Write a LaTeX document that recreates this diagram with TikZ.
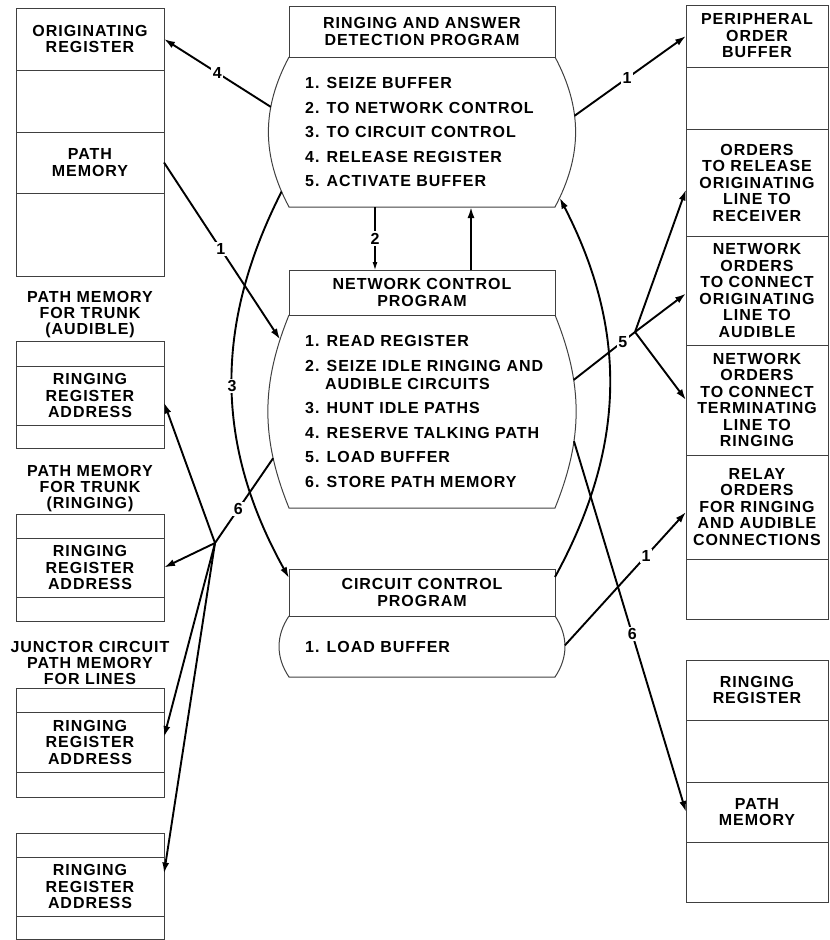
\documentclass[tikz,border=0pt]{standalone}
\usepackage{fontspec}
\usepackage{tikz}
\usetikzlibrary{positioning,arrows.meta}

\newfontfamily\lettering{Liberation Sans}[LetterSpace=6]

\tikzset{
  cell/.style={draw=black!75, line width=1pt, inner sep=0pt, outer sep=0pt, align=center,
    font=\lettering\bfseries\fontsize{16}{16.5}\selectfont},
  leftcell/.style={cell, minimum width=148pt},
  rightcell/.style={cell, minimum width=142pt},
  head/.style={cell, minimum width=266pt, font=\lettering\bfseries\fontsize{16}{17}\selectfont},
  body/.style={inner sep=0pt, outer sep=0pt, minimum width=266pt},
  list/.style={inner sep=0pt, anchor=west, align=left,
    font=\lettering\bfseries\fontsize{16}{24.5}\selectfont},
  caption/.style={inner sep=0pt, align=center, font=\lettering\bfseries\fontsize{16}{16}\selectfont},
  outline/.style={draw=black!75, line width=1pt},
  line/.style={line width=1.9pt},
  flow/.style={line, -{Latex[length=11pt,width=7pt]}},
  thinflow/.style={line width=1.1pt, -{Latex[length=8pt,width=5pt]}},
  num/.style={fill=white, inner sep=1.5pt, font=\lettering\bfseries\fontsize{16}{16}\selectfont}
}

\begin{document}
\begin{tikzpicture}[x=1pt,y=-1pt]
\useasboundingbox (0,0) rectangle (830,940);

% left column
\node[leftcell, minimum height=62pt, anchor=north] (origreg) at (90,8) {ORIGINATING\\REGISTER};
\node[leftcell, minimum height=62pt, below=0pt of origreg] (origgap) {};
\node[leftcell, minimum height=61pt, below=0pt of origgap] (origpath) {PATH\\MEMORY};
\node[leftcell, minimum height=83pt, below=0pt of origpath] (origtail) {};

\node[caption] (tacap) at (90,315) {PATH MEMORY\\FOR TRUNK\\(AUDIBLE)};
\node[leftcell, minimum height=25pt, anchor=north] (tatop) at (90,341) {};
\node[leftcell, minimum height=59pt, below=0pt of tatop] (taaddr) {RINGING\\REGISTER\\ADDRESS};
\node[leftcell, minimum height=23pt, below=0pt of taaddr] (tabot) {};

\node[caption] (trcap) at (90,489) {PATH MEMORY\\FOR TRUNK\\(RINGING)};
\node[leftcell, minimum height=24pt, anchor=north] (trtop) at (90,514) {};
\node[leftcell, minimum height=59pt, below=0pt of trtop] (traddr) {RINGING\\REGISTER\\ADDRESS};
\node[leftcell, minimum height=24pt, below=0pt of traddr] (trbot) {};

\node[caption] (jccap) at (90,663) {JUNCTOR CIRCUIT\\PATH MEMORY\\FOR LINES};
\node[leftcell, minimum height=24pt, anchor=north] (jctop) at (90,688) {};
\node[leftcell, minimum height=60pt, below=0pt of jctop] (jcaddr) {RINGING\\REGISTER\\ADDRESS};
\node[leftcell, minimum height=25pt, below=0pt of jcaddr] (jcbot) {};

\node[leftcell, minimum height=24pt, anchor=north] (lntop) at (90,833) {};
\node[leftcell, minimum height=59pt, below=0pt of lntop] (lnaddr) {RINGING\\REGISTER\\ADDRESS};
\node[leftcell, minimum height=23pt, below=0pt of lnaddr] (lnbot) {};

% right column
\node[rightcell, minimum height=62pt, anchor=north] (pob) at (757,5) {PERIPHERAL\\ORDER\\BUFFER};
\node[rightcell, minimum height=62pt, below=0pt of pob] (pobgap) {};
\node[rightcell, minimum height=107pt, below=0pt of pobgap] (orderrel) {ORDERS\\TO RELEASE\\ORIGINATING\\LINE TO\\RECEIVER};
\node[rightcell, minimum height=109pt, below=0pt of orderrel] (orderorig) {NETWORK\\ORDERS\\TO CONNECT\\ORIGINATING\\LINE TO\\AUDIBLE};
\node[rightcell, minimum height=110pt, below=0pt of orderorig] (orderterm) {NETWORK\\ORDERS\\TO CONNECT\\TERMINATING\\LINE TO\\RINGING};
\node[rightcell, minimum height=104pt, below=0pt of orderterm] (relay) {RELAY\\ORDERS\\FOR RINGING\\AND AUDIBLE\\CONNECTIONS};
\node[rightcell, minimum height=60pt, below=0pt of relay] (pobtail) {};

\node[rightcell, minimum height=60pt, anchor=north] (ringreg) at (757,660) {RINGING\\REGISTER};
\node[rightcell, minimum height=62pt, below=0pt of ringreg] (ringgap) {};
\node[rightcell, minimum height=60pt, below=0pt of ringgap] (ringpath) {PATH\\MEMORY};
\node[rightcell, minimum height=60pt, below=0pt of ringpath] (ringtail) {};

% programs
\node[head, minimum height=51pt] (ringhead) at (422,31.5) {RINGING AND ANSWER\\DETECTION PROGRAM};
\node[body, minimum height=150pt, below=0pt of ringhead] (ringbody) {};
\node[list] at ([xshift=16pt]ringbody.west) {1. SEIZE BUFFER\\2. TO NETWORK CONTROL\\3. TO CIRCUIT CONTROL\\4. RELEASE REGISTER\\5. ACTIVATE BUFFER};
\draw[outline] (ringbody.north west) to[bend right=28] coordinate[pos=.33] (ringW) coordinate[pos=.9] (ringSW) (ringbody.south west)
  -- (ringbody.south east) to[bend right=28] coordinate[pos=.06] (ringSE) coordinate[pos=.61] (ringE) (ringbody.north east);

\node[head, minimum height=45pt] (nethead) at (422,292.5) {NETWORK CONTROL\\PROGRAM};
\node[body, minimum height=193pt, below=0pt of nethead] (netbody) {};
\node[list] at ([xshift=16pt]netbody.west) {1. READ REGISTER\\2. SEIZE IDLE RINGING AND\\[-6.5pt]\hspace*{20pt}AUDIBLE CIRCUITS\\3. HUNT IDLE PATHS\\4. RESERVE TALKING PATH\\5. LOAD BUFFER\\6. STORE PATH MEMORY};
\draw[outline] (netbody.north west) to[bend right=22] coordinate[pos=.12] (netNW) coordinate[pos=.75] (netSW) (netbody.south west)
  -- (netbody.south east) to[bend right=22] coordinate[pos=.34] (netSE) coordinate[pos=.67] (netE) (netbody.north east);

\node[head, minimum height=47pt] (circhead) at (422,592.5) {CIRCUIT CONTROL\\PROGRAM};
\node[body, minimum height=61pt, below=0pt of circhead] (circbody) {};
\node[list] at ([xshift=16pt]circbody.west) {1. LOAD BUFFER};
\draw[outline] (circbody.north west) to[bend right=34] (circbody.south west)
  -- (circbody.south east) to[bend right=34] coordinate[pos=.52] (circE) (circbody.north east);

% connections
\coordinate (fork5) at (635,332);
\coordinate (fork6) at (215,543);

\draw[flow] (ringW) -- node[num]{4} (origreg.east);
\draw[flow] (origpath.east) -- node[num,pos=.49]{1} (netNW);
\draw[flow] (ringE) -- node[num,pos=.47]{1} (pob.west);
\draw[thinflow] ([xshift=-47pt]ringbody.south) -- node[num]{2} ([xshift=-47pt]nethead.north);
\draw[flow] ([xshift=49pt]nethead.north) -- ([xshift=49pt]ringbody.south);
\draw[flow] (ringSW) to[bend right=28] node[num]{3} ([yshift=-9pt]circhead.north west);
\draw[flow] ([yshift=-8pt]circhead.north east) to[bend right=28] (ringSE);

\draw[line] (netE) -- node[num,pos=.8]{5} (fork5);
\draw[flow] (fork5) -- ([yshift=-7pt]orderrel.west);
\draw[flow] (fork5) -- ([yshift=-3pt]orderorig.west);
\draw[flow] (fork5) -- (orderterm.west);

\draw[flow] (netSE) -- node[num,pos=.52]{6} (ringpath.west);
\draw[flow] (circE) -- node[num,pos=.67]{1} ([yshift=-5pt]relay.west);

\draw[line] (netSW) -- node[num,pos=.6]{6} (fork6);
\draw[flow] (fork6) -- ([yshift=-7pt]taaddr.east);
\draw[flow] (fork6) -- (traddr.east);
\draw[flow] (fork6) -- ([yshift=5pt]jcaddr.east);
\draw[flow] (fork6) -- ([yshift=13pt]lnaddr.east);
\end{tikzpicture}
\end{document}
